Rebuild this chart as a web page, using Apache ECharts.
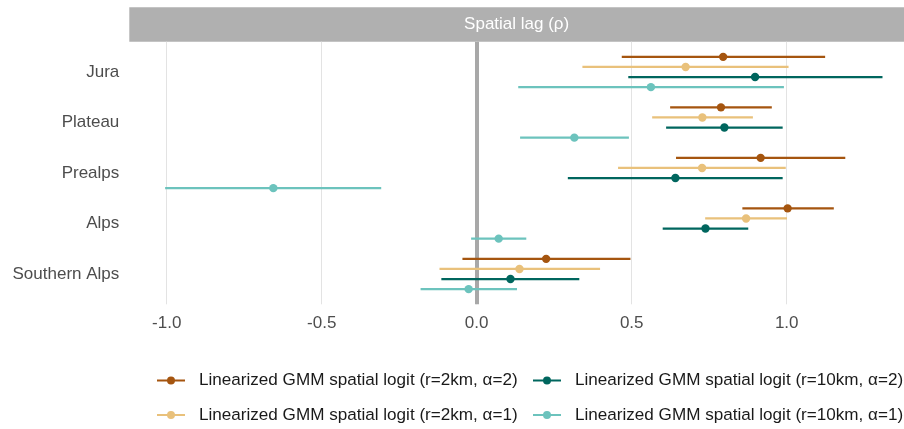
<!DOCTYPE html>
<html><head><meta charset="utf-8">
<script src="https://cdn.jsdelivr.net/npm/echarts@6/dist/echarts.min.js"></script>
<style>html,body{margin:0;padding:0;background:#fff}#c{width:904px;height:429px}</style>
</head><body><div id="c"></div>
<script>
const categories = ['Jura', 'Plateau', 'Prealps', 'Alps', 'Southern Alps'];
const xTicks = [-1, -0.5, 0, 0.5, 1];
const stripTitle = 'Spatial lag (\u03c1)';
const seriesNames = [
  'Linearized GMM spatial logit (r=2km, \u03b1=2)',
  'Linearized GMM spatial logit (r=2km, \u03b1=1)',
  'Linearized GMM spatial logit (r=10km, \u03b1=2)',
  'Linearized GMM spatial logit (r=10km, \u03b1=1)'
];
// r=2km, alpha=2
const est_r2_a2 = [0.795, 0.788, 0.916, 1.003, 0.224];
const lo_r2_a2  = [0.468, 0.624, 0.643, 0.857, -0.046];
const hi_r2_a2  = [1.124, 0.952, 1.189, 1.152, 0.496];
// r=2km, alpha=1
const est_r2_a1 = [0.674, 0.728, 0.727, 0.869, 0.138];
const lo_r2_a1  = [0.341, 0.566, 0.456, 0.737, -0.120];
const hi_r2_a1  = [1.006, 0.891, 0.997, 1.001, 0.398];
// r=10km, alpha=2
const est_r10_a2 = [0.898, 0.799, 0.641, 0.738, 0.109];
const lo_r10_a2  = [0.489, 0.611, 0.294, 0.600, -0.114];
const hi_r10_a2  = [1.309, 0.987, 0.987, 0.876, 0.331];
// r=10km, alpha=1
const est_r10_a1 = [0.562, 0.315, -0.656, 0.071, -0.026];
const lo_r10_a1  = [0.134, 0.140, -1.005, -0.018, -0.181];
const hi_r10_a1  = [0.991, 0.491, -0.308, 0.160, 0.130];

const colors = ['#a5550f', '#e9c17b', '#00665e', '#6cc3bd'];
const dodge = [-0.3, -0.1, 0.1, 0.3];
const FONT = 'Liberation Sans';

const groups = [
  [est_r2_a2, lo_r2_a2, hi_r2_a2],
  [est_r2_a1, lo_r2_a1, hi_r2_a1],
  [est_r10_a2, lo_r10_a2, hi_r10_a2],
  [est_r10_a1, lo_r10_a1, hi_r10_a1]
];

function makeRender(offset) {
  return function (params, api) {
    const y = api.value(3) + offset;
    const p0 = api.coord([api.value(0), y]);
    const p1 = api.coord([api.value(1), y]);
    const pc = api.coord([api.value(2), y]);
    const color = api.visual('color');
    return {
      type: 'group',
      children: [
        { type: 'line', shape: { x1: p0[0], y1: p0[1], x2: p1[0], y2: p1[1] }, style: { stroke: color, lineWidth: 2.2 } },
        { type: 'circle', shape: { cx: pc[0], cy: pc[1], r: 4.2 }, style: { fill: color } }
      ]
    };
  };
}

const series = groups.map((g, k) => {
  const s = {
    type: 'custom',
    name: seriesNames[k],
    renderItem: makeRender(dodge[k]),
    itemStyle: { color: colors[k] },
    encode: { x: [0, 1, 2], y: 3 },
    data: categories.map((c, i) => [g[1][i], g[2][i], g[0][i], i + 1]),
    z: 3
  };
  if (k === 0) {
    s.markLine = {
      silent: true, symbol: 'none', z: 1,
      label: { show: false },
      lineStyle: { color: '#a8a8a8', width: 4, type: 'solid' },
      data: [{ xAxis: 0 }]
    };
  }
  return s;
});

const icon = 'path://M0,3H11V5H0Z M17,3H28V5H17Z M10,4A4,4 0 1,1 18,4A4,4 0 1,1 10,4Z';
const legendPos = [[157, 372], [157, 406.5], [533, 372], [533, 406.5]];
const legends = seriesNames.map((n, k) => ({
  data: [{ name: n, icon: icon }],
  left: legendPos[k][0], top: legendPos[k][1],
  padding: 0, itemWidth: 28, itemHeight: 8, selectedMode: false,
  textStyle: { fontFamily: FONT, fontSize: 17.1, color: '#1a1a1a', padding: [0, 0, 0, 9] }
}));

const chart = echarts.init(document.getElementById('c'), null, { renderer: 'canvas' });
chart.setOption({
  animation: false,
  backgroundColor: '#ffffff',
  grid: { left: 129.3, right: 0, top: 41.7, bottom: 124.7, containLabel: false },
  xAxis: {
    type: 'value', min: -1.1206, max: 1.3784,
    axisLine: { show: false },
    axisTick: { show: false, customValues: xTicks },
    axisLabel: { customValues: xTicks, formatter: v => v.toFixed(1), fontFamily: FONT, fontSize: 17, color: '#4d4d4d', margin: 10.5 },
    splitLine: { show: true, lineStyle: { color: '#e3e3e3', width: 1 } }
  },
  yAxis: {
    type: 'value', min: 0.4, max: 5.6, inverse: true,
    axisLine: { show: false },
    axisTick: { show: false, customValues: [1, 2, 3, 4, 5] },
    axisLabel: { customValues: [1, 2, 3, 4, 5], formatter: v => categories[Math.round(v) - 1] || '', fontFamily: FONT, fontSize: 17, color: '#4d4d4d', margin: 10 },
    splitLine: { show: false }
  },
  legend: legends,
  graphic: [
    { type: 'rect', left: 129.3, top: 7.3, shape: { width: 904 - 129.3, height: 34.4 }, style: { fill: '#b0b0b0' }, z: 0 },
    { type: 'text', x: (129.3 + 904) / 2, y: 24.5, style: { text: stripTitle, fill: '#ffffff', font: '17px "Liberation Sans"', align: 'center', verticalAlign: 'middle' }, z: 1 }
  ],
  series: series
});
</script>
</body></html>
